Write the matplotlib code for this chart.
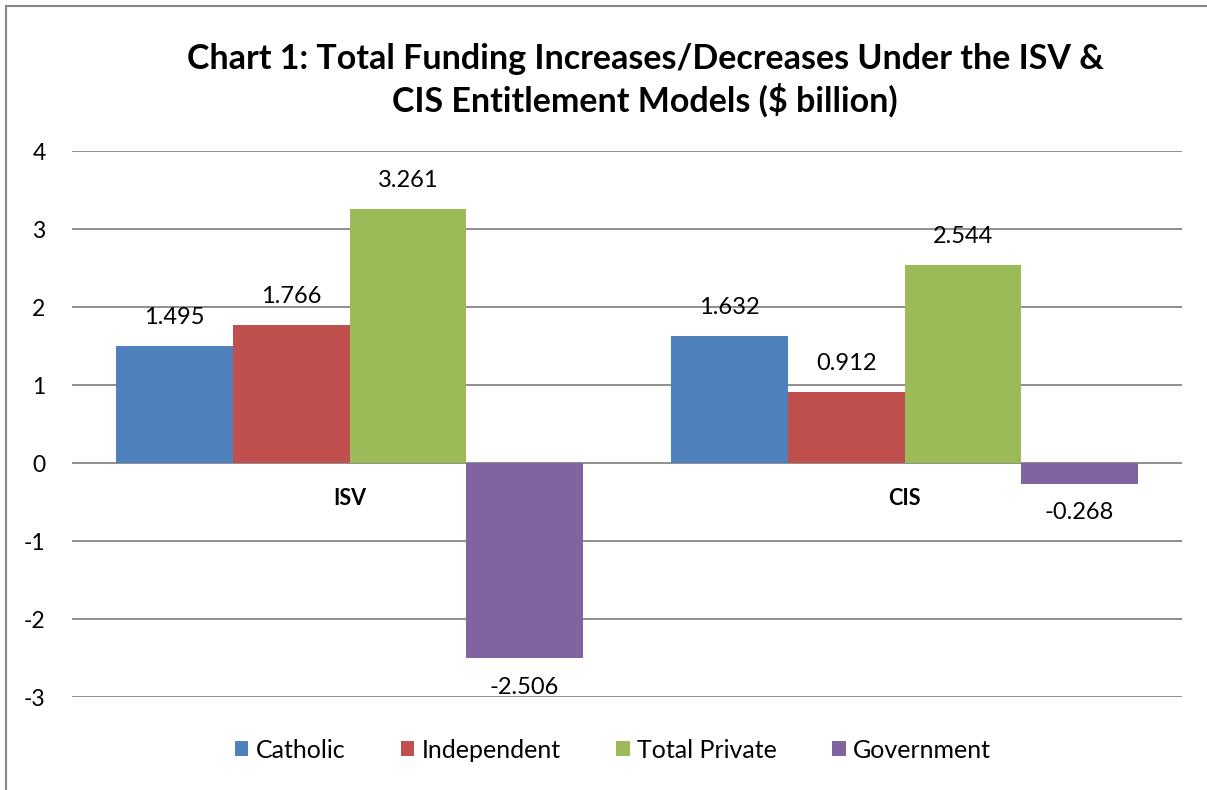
import matplotlib.pyplot as plt
import numpy as np

groups = ["ISV", "CIS"]
series = ["Catholic", "Independent", "Total Private", "Government"]
catholic = [1.495, 1.632]
independent = [1.766, 0.912]
total_private = [3.261, 2.544]
government = [-2.506, -0.268]
colors = ["#4F81BD", "#C0504D", "#9BBB59", "#8064A2"]
yticks = [-3, -2, -1, 0, 1, 2, 3, 4]

plt.rcParams['font.family'] = ['Lato', 'DejaVu Sans']

fig = plt.figure(figsize=(12.07, 7.90), dpi=100)
ax = fig.add_axes([72 / 1207, 1 - 697 / 790, 1110 / 1207, 546 / 790])

x = np.arange(len(groups))
w = 0.21
values = [catholic, independent, total_private, government]
for i, (name, vals) in enumerate(zip(series, values)):
    pos = x + (i - 1.5) * w
    ax.bar(pos, vals, w, color=colors[i], label=name, zorder=3)
    for p, v in zip(pos, vals):
        if v >= 0:
            ax.annotate("%.3f" % v, (p, v), xytext=(0, 13), textcoords="offset points",
                        ha="center", va="bottom", fontsize=17)
        else:
            ax.annotate("%.3f" % v, (p, v), xytext=(0, -13), textcoords="offset points",
                        ha="center", va="top", fontsize=17)

# category labels just under the zero line
for xi, g in zip(x, groups):
    ax.annotate(g, (xi, 0), xytext=(0, -18), textcoords="offset points",
                ha="center", va="top", fontsize=15.5, fontweight="bold")

ax.set_xlim(-0.5, 1.5)
ax.set_ylim(-3, 4)
ax.set_yticks(yticks)
ax.set_yticklabels([str(t) for t in yticks], fontsize=16.5)
ax.set_xticks([])
ax.tick_params(axis="y", length=0, pad=19)
ax.grid(axis="y", color="#868686", linewidth=1.3, zorder=0)
for s in ax.spines.values():
    s.set_visible(False)

fig.text(645 / 1207, 1 - 80 / 790,
         "Chart 1: Total Funding Increases/Decreases Under the ISV &\nCIS Entitlement Models ($ billion)",
         ha="center", va="center", fontsize=24.5, fontweight="bold", linespacing=1.3)

fig.legend(loc="center", bbox_to_anchor=(613 / 1207, 1 - 750 / 790), ncol=4,
           frameon=False, fontsize=18, handlelength=0.55, handleheight=0.55,
           handletextpad=0.3, columnspacing=2.2)

# chart border (top and left visible)
fig.add_artist(plt.Line2D([6 / 1207, 1], [1 - 6 / 790, 1 - 6 / 790], color="#868686", linewidth=1.5))
fig.add_artist(plt.Line2D([6 / 1207, 6 / 1207], [0, 1 - 6 / 790], color="#868686", linewidth=1.5))

fig.savefig("out.png", dpi=100)
